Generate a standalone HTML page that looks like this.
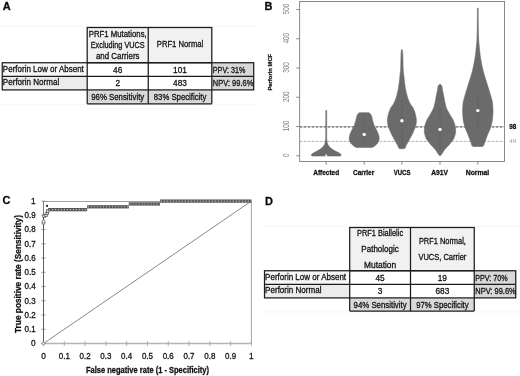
<!DOCTYPE html>
<html><head><meta charset="utf-8"><title>Figure</title>
<style>html,body{margin:0;padding:0;background:#fff}svg{display:block}</style></head>
<body>
<svg width="520" height="376" viewBox="0 0 520 376" font-family="Liberation Sans, sans-serif">
<rect x="0" y="0" width="520" height="376" fill="#ffffff" stroke="none" stroke-width="1"/>
<text x="2.8" y="10.1" font-size="11" text-anchor="start" font-weight="bold" fill="#0a0a0a" stroke="#0a0a0a" stroke-width="0.28" >A</text>
<text x="264.4" y="10.0" font-size="11" text-anchor="start" font-weight="bold" fill="#0a0a0a" stroke="#0a0a0a" stroke-width="0.28" >B</text>
<text x="2.6" y="204.4" font-size="11" text-anchor="start" font-weight="bold" fill="#0a0a0a" stroke="#0a0a0a" stroke-width="0.28" >C</text>
<text x="264.9" y="204.5" font-size="11" text-anchor="start" font-weight="bold" fill="#0a0a0a" stroke="#0a0a0a" stroke-width="0.28" >D</text>
<line x1="0.25" y1="26.3" x2="257.7" y2="26.3" stroke="#f1f1f1" stroke-width="0.8" />
<line x1="0.25" y1="104.6" x2="257.7" y2="104.6" stroke="#f4f4f4" stroke-width="0.8" />
<rect x="87.2" y="27.5" width="124.60000000000001" height="35.25" fill="#f1f1f1" stroke="none" stroke-width="1"/>
<rect x="2.25" y="62.75" width="84.95" height="13.650000000000006" fill="#f7f7f7" stroke="none" stroke-width="1"/>
<rect x="2.25" y="76.4" width="84.95" height="13.5" fill="#ececec" stroke="none" stroke-width="1"/>
<rect x="211.8" y="62.75" width="41.89999999999998" height="27.150000000000006" fill="#d8d8d8" stroke="none" stroke-width="1"/>
<rect x="87.2" y="89.9" width="124.60000000000001" height="13.899999999999991" fill="#dadada" stroke="none" stroke-width="1"/>
<rect x="87.2" y="27.5" width="124.60000000000001" height="35.25" fill="none" stroke="#1c1c1c" stroke-width="1.25"/>
<line x1="148.25" y1="27.5" x2="148.25" y2="103.8" stroke="#1c1c1c" stroke-width="1.25" />
<rect x="2.25" y="62.75" width="251.45" height="27.150000000000006" fill="none" stroke="#1c1c1c" stroke-width="1.25"/>
<line x1="2.25" y1="76.4" x2="253.7" y2="76.4" stroke="#1c1c1c" stroke-width="1.25" />
<line x1="87.2" y1="62.75" x2="87.2" y2="103.8" stroke="#1c1c1c" stroke-width="1.25" />
<line x1="211.8" y1="62.75" x2="211.8" y2="103.8" stroke="#1c1c1c" stroke-width="1.25" />
<line x1="87.2" y1="103.8" x2="211.8" y2="103.8" stroke="#1c1c1c" stroke-width="1.25" />
<text x="117.725" y="36.6" font-size="8.3" text-anchor="middle" font-weight="normal" fill="#111111" stroke="#111111" stroke-width="0.28" textLength="58" lengthAdjust="spacingAndGlyphs" >PRF1 Mutations,</text>
<text x="117.725" y="47.5" font-size="8.3" text-anchor="middle" font-weight="normal" fill="#111111" stroke="#111111" stroke-width="0.28" textLength="54" lengthAdjust="spacingAndGlyphs" >Excluding VUCS</text>
<text x="117.725" y="58.5" font-size="8.3" text-anchor="middle" font-weight="normal" fill="#111111" stroke="#111111" stroke-width="0.28" textLength="43.5" lengthAdjust="spacingAndGlyphs" >and Carriers</text>
<text x="180.025" y="47.4" font-size="8.3" text-anchor="middle" font-weight="normal" fill="#111111" stroke="#111111" stroke-width="0.28" textLength="46.5" lengthAdjust="spacingAndGlyphs" >PRF1 Normal</text>
<text x="2.85" y="71.575" font-size="8.2" text-anchor="start" font-weight="normal" fill="#111111" stroke="#111111" stroke-width="0.28" textLength="81" lengthAdjust="spacingAndGlyphs" >Perforin Low or Absent</text>
<text x="2.85" y="85.15" font-size="8.2" text-anchor="start" font-weight="normal" fill="#111111" stroke="#111111" stroke-width="0.28" textLength="56.4" lengthAdjust="spacingAndGlyphs" >Perforin Normal</text>
<text x="117.725" y="72.775" font-size="8.3" text-anchor="middle" font-weight="normal" fill="#111111" stroke="#111111" stroke-width="0.28" >46</text>
<text x="180.025" y="72.775" font-size="8.3" text-anchor="middle" font-weight="normal" fill="#111111" stroke="#111111" stroke-width="0.28" >101</text>
<text x="117.725" y="86.35000000000001" font-size="8.3" text-anchor="middle" font-weight="normal" fill="#111111" stroke="#111111" stroke-width="0.28" >2</text>
<text x="180.025" y="86.35000000000001" font-size="8.3" text-anchor="middle" font-weight="normal" fill="#111111" stroke="#111111" stroke-width="0.28" >483</text>
<text x="117.725" y="99.94999999999999" font-size="8.3" text-anchor="middle" font-weight="normal" fill="#111111" stroke="#111111" stroke-width="0.28" textLength="53" lengthAdjust="spacingAndGlyphs" >96% Sensitivity</text>
<text x="180.025" y="99.94999999999999" font-size="8.3" text-anchor="middle" font-weight="normal" fill="#111111" stroke="#111111" stroke-width="0.28" textLength="52.5" lengthAdjust="spacingAndGlyphs" >83% Specificity</text>
<text x="212.8" y="72.775" font-size="8.3" text-anchor="start" font-weight="normal" fill="#111111" stroke="#111111" stroke-width="0.28" textLength="32.5" lengthAdjust="spacingAndGlyphs" >PPV: 31%</text>
<text x="212.8" y="86.35000000000001" font-size="8.3" text-anchor="start" font-weight="normal" fill="#111111" stroke="#111111" stroke-width="0.28" textLength="40.5" lengthAdjust="spacingAndGlyphs" >NPV: 99.6%</text>
<line x1="262.5" y1="226.3" x2="519.75" y2="226.3" stroke="#f1f1f1" stroke-width="0.8" />
<line x1="262.5" y1="311.90000000000003" x2="519.75" y2="311.90000000000003" stroke="#f4f4f4" stroke-width="0.8" />
<rect x="349.7" y="227.5" width="124.55000000000001" height="43.25" fill="#f1f1f1" stroke="none" stroke-width="1"/>
<rect x="264.5" y="270.75" width="85.19999999999999" height="13.649999999999977" fill="#f7f7f7" stroke="none" stroke-width="1"/>
<rect x="264.5" y="284.4" width="85.19999999999999" height="13.5" fill="#ececec" stroke="none" stroke-width="1"/>
<rect x="474.25" y="270.75" width="41.5" height="27.149999999999977" fill="#d8d8d8" stroke="none" stroke-width="1"/>
<rect x="349.7" y="297.9" width="124.55000000000001" height="13.200000000000045" fill="#dadada" stroke="none" stroke-width="1"/>
<rect x="349.7" y="227.5" width="124.55000000000001" height="43.25" fill="none" stroke="#1c1c1c" stroke-width="1.25"/>
<line x1="410.5" y1="227.5" x2="410.5" y2="311.1" stroke="#1c1c1c" stroke-width="1.25" />
<rect x="264.5" y="270.75" width="251.25" height="27.149999999999977" fill="none" stroke="#1c1c1c" stroke-width="1.25"/>
<line x1="264.5" y1="284.4" x2="515.75" y2="284.4" stroke="#1c1c1c" stroke-width="1.25" />
<line x1="349.7" y1="270.75" x2="349.7" y2="311.1" stroke="#1c1c1c" stroke-width="1.25" />
<line x1="474.25" y1="270.75" x2="474.25" y2="311.1" stroke="#1c1c1c" stroke-width="1.25" />
<line x1="349.7" y1="311.1" x2="474.25" y2="311.1" stroke="#1c1c1c" stroke-width="1.25" />
<text x="380.1" y="235.5" font-size="8.3" text-anchor="middle" font-weight="normal" fill="#111111" stroke="#111111" stroke-width="0.28" textLength="46" lengthAdjust="spacingAndGlyphs" >PRF1 Biallelic</text>
<text x="380.1" y="251.6" font-size="8.3" text-anchor="middle" font-weight="normal" fill="#111111" stroke="#111111" stroke-width="0.28" textLength="37.5" lengthAdjust="spacingAndGlyphs" >Pathologic</text>
<text x="380.1" y="267.5" font-size="8.3" text-anchor="middle" font-weight="normal" fill="#111111" stroke="#111111" stroke-width="0.28" textLength="32.3" lengthAdjust="spacingAndGlyphs" >Mutation</text>
<text x="442.375" y="243.5" font-size="8.3" text-anchor="middle" font-weight="normal" fill="#111111" stroke="#111111" stroke-width="0.28" textLength="47" lengthAdjust="spacingAndGlyphs" >PRF1 Normal,</text>
<text x="442.375" y="259.8" font-size="8.3" text-anchor="middle" font-weight="normal" fill="#111111" stroke="#111111" stroke-width="0.28" textLength="48" lengthAdjust="spacingAndGlyphs" >VUCS, Carrier</text>
<text x="265.1" y="279.575" font-size="8.2" text-anchor="start" font-weight="normal" fill="#111111" stroke="#111111" stroke-width="0.28" textLength="81" lengthAdjust="spacingAndGlyphs" >Perforin Low or Absent</text>
<text x="265.1" y="293.15" font-size="8.2" text-anchor="start" font-weight="normal" fill="#111111" stroke="#111111" stroke-width="0.28" textLength="56.4" lengthAdjust="spacingAndGlyphs" >Perforin Normal</text>
<text x="380.1" y="280.775" font-size="8.3" text-anchor="middle" font-weight="normal" fill="#111111" stroke="#111111" stroke-width="0.28" >45</text>
<text x="442.375" y="280.775" font-size="8.3" text-anchor="middle" font-weight="normal" fill="#111111" stroke="#111111" stroke-width="0.28" >19</text>
<text x="380.1" y="294.34999999999997" font-size="8.3" text-anchor="middle" font-weight="normal" fill="#111111" stroke="#111111" stroke-width="0.28" >3</text>
<text x="442.375" y="294.34999999999997" font-size="8.3" text-anchor="middle" font-weight="normal" fill="#111111" stroke="#111111" stroke-width="0.28" >683</text>
<text x="380.1" y="307.6" font-size="8.3" text-anchor="middle" font-weight="normal" fill="#111111" stroke="#111111" stroke-width="0.28" textLength="53" lengthAdjust="spacingAndGlyphs" >94% Sensitivity</text>
<text x="442.375" y="307.6" font-size="8.3" text-anchor="middle" font-weight="normal" fill="#111111" stroke="#111111" stroke-width="0.28" textLength="52.5" lengthAdjust="spacingAndGlyphs" >97% Specificity</text>
<text x="475.25" y="280.775" font-size="8.3" text-anchor="start" font-weight="normal" fill="#111111" stroke="#111111" stroke-width="0.28" textLength="32.5" lengthAdjust="spacingAndGlyphs" >PPV: 70%</text>
<text x="475.25" y="294.34999999999997" font-size="8.3" text-anchor="start" font-weight="normal" fill="#111111" stroke="#111111" stroke-width="0.28" textLength="40.5" lengthAdjust="spacingAndGlyphs" >NPV: 99.6%</text>
<line x1="299.6" y1="126.9" x2="504.5" y2="126.9" stroke="#5e5e5e" stroke-width="1.1" stroke-dasharray="2.8 1.2"/>
<line x1="299.6" y1="141.4" x2="504.5" y2="141.4" stroke="#a8a8a8" stroke-width="0.9" stroke-dasharray="2.8 1.2"/>
<polygon points="326.65,110.50 326.65,111.00 326.65,111.50 326.65,112.00 326.65,112.50 326.65,113.00 326.65,113.50 326.65,114.00 326.65,114.50 326.65,115.00 326.65,115.50 326.65,116.00 326.65,116.50 326.65,117.00 326.65,117.50 326.65,118.00 326.65,118.50 326.65,119.00 326.65,119.50 326.65,120.00 326.65,120.50 326.66,121.00 326.66,121.50 326.66,122.00 326.66,122.50 326.66,123.00 326.66,123.50 326.66,124.00 326.66,124.50 326.66,125.00 326.66,125.50 326.66,126.00 326.66,126.50 326.67,127.00 326.67,127.50 326.67,128.00 326.67,128.50 326.67,129.00 326.67,129.50 326.67,130.00 326.67,130.50 326.68,131.00 326.68,131.50 326.68,132.00 326.68,132.50 326.68,133.00 326.69,133.50 326.69,134.00 326.69,134.50 326.69,135.00 326.69,135.50 326.70,136.00 326.70,136.50 326.70,137.00 326.71,137.50 326.73,138.00 326.75,138.50 326.79,139.00 326.84,139.50 326.89,140.00 326.94,140.50 327.01,141.00 327.07,141.50 327.15,142.00 327.25,142.50 327.38,143.00 327.54,143.50 327.72,144.00 327.92,144.50 328.15,145.00 328.43,145.50 328.79,146.00 329.20,146.50 329.67,147.00 330.17,147.50 330.70,148.00 331.30,148.50 331.99,149.00 332.76,149.50 333.57,150.00 334.40,150.50 335.29,151.00 336.27,151.50 337.27,152.00 338.20,152.50 339.03,153.00 339.89,153.50 340.60,154.00 340.93,154.50 341.06,155.00 341.05,155.50 340.00,156.00 312.40,156.00 311.35,155.50 311.34,155.00 311.47,154.50 311.80,154.00 312.51,153.50 313.37,153.00 314.20,152.50 315.13,152.00 316.13,151.50 317.11,151.00 318.00,150.50 318.83,150.00 319.64,149.50 320.41,149.00 321.10,148.50 321.70,148.00 322.23,147.50 322.73,147.00 323.20,146.50 323.61,146.00 323.97,145.50 324.25,145.00 324.48,144.50 324.68,144.00 324.86,143.50 325.02,143.00 325.15,142.50 325.25,142.00 325.33,141.50 325.39,141.00 325.46,140.50 325.51,140.00 325.56,139.50 325.61,139.00 325.65,138.50 325.67,138.00 325.69,137.50 325.70,137.00 325.70,136.50 325.70,136.00 325.71,135.50 325.71,135.00 325.71,134.50 325.71,134.00 325.71,133.50 325.72,133.00 325.72,132.50 325.72,132.00 325.72,131.50 325.72,131.00 325.73,130.50 325.73,130.00 325.73,129.50 325.73,129.00 325.73,128.50 325.73,128.00 325.73,127.50 325.73,127.00 325.74,126.50 325.74,126.00 325.74,125.50 325.74,125.00 325.74,124.50 325.74,124.00 325.74,123.50 325.74,123.00 325.74,122.50 325.74,122.00 325.74,121.50 325.74,121.00 325.75,120.50 325.75,120.00 325.75,119.50 325.75,119.00 325.75,118.50 325.75,118.00 325.75,117.50 325.75,117.00 325.75,116.50 325.75,116.00 325.75,115.50 325.75,115.00 325.75,114.50 325.75,114.00 325.75,113.50 325.75,113.00 325.75,112.50 325.75,112.00 325.75,111.50 325.75,111.00 325.75,110.50" fill="#6b6b6b" stroke="#6b6b6b" stroke-width="0.6" stroke-linejoin="round"/>
<polygon points="368.80,112.70 369.69,113.20 370.29,113.70 370.66,114.20 370.96,114.70 371.21,115.20 371.42,115.70 371.60,116.20 371.77,116.70 371.91,117.20 372.04,117.70 372.16,118.20 372.27,118.70 372.37,119.20 372.48,119.70 372.59,120.20 372.72,120.70 372.86,121.20 373.00,121.70 373.14,122.20 373.29,122.70 373.44,123.20 373.59,123.70 373.76,124.20 373.93,124.70 374.11,125.20 374.30,125.70 374.51,126.20 374.75,126.70 375.02,127.20 375.29,127.70 375.57,128.20 375.86,128.70 376.14,129.20 376.41,129.70 376.66,130.20 376.89,130.70 377.12,131.20 377.35,131.70 377.58,132.20 377.80,132.70 378.01,133.20 378.21,133.70 378.39,134.20 378.55,134.70 378.68,135.20 378.79,135.70 378.90,136.20 379.00,136.70 379.09,137.20 379.15,137.70 379.19,138.20 379.20,138.70 379.15,139.20 379.06,139.70 378.93,140.20 378.76,140.70 378.57,141.20 378.36,141.70 378.14,142.20 377.90,142.70 377.57,143.20 377.16,143.70 376.67,144.20 376.14,144.70 375.57,145.20 375.00,145.70 374.41,146.20 373.68,146.70 372.57,147.20 372.00,147.40 356.40,147.40 355.83,147.20 354.72,146.70 353.99,146.20 353.40,145.70 352.83,145.20 352.26,144.70 351.73,144.20 351.24,143.70 350.83,143.20 350.50,142.70 350.26,142.20 350.04,141.70 349.83,141.20 349.64,140.70 349.47,140.20 349.34,139.70 349.25,139.20 349.20,138.70 349.21,138.20 349.25,137.70 349.31,137.20 349.40,136.70 349.50,136.20 349.61,135.70 349.72,135.20 349.85,134.70 350.01,134.20 350.19,133.70 350.39,133.20 350.60,132.70 350.82,132.20 351.05,131.70 351.28,131.20 351.51,130.70 351.74,130.20 351.99,129.70 352.26,129.20 352.54,128.70 352.83,128.20 353.11,127.70 353.38,127.20 353.65,126.70 353.89,126.20 354.10,125.70 354.29,125.20 354.47,124.70 354.64,124.20 354.81,123.70 354.96,123.20 355.11,122.70 355.26,122.20 355.40,121.70 355.54,121.20 355.68,120.70 355.81,120.20 355.92,119.70 356.03,119.20 356.13,118.70 356.24,118.20 356.36,117.70 356.49,117.20 356.63,116.70 356.80,116.20 356.98,115.70 357.19,115.20 357.44,114.70 357.74,114.20 358.11,113.70 358.71,113.20 359.60,112.70" fill="#6b6b6b" stroke="#6b6b6b" stroke-width="0.6" stroke-linejoin="round"/>
<polygon points="402.40,49.80 402.45,50.30 402.51,50.80 402.56,51.30 402.61,51.80 402.65,52.30 402.69,52.80 402.72,53.30 402.74,53.80 402.76,54.30 402.78,54.80 402.80,55.30 402.82,55.80 402.84,56.30 402.85,56.80 402.87,57.30 402.88,57.80 402.89,58.30 402.91,58.80 402.92,59.30 402.93,59.80 402.94,60.30 402.95,60.80 402.96,61.30 402.97,61.80 402.98,62.30 402.99,62.80 403.00,63.30 403.02,63.80 403.03,64.30 403.04,64.80 403.06,65.30 403.07,65.80 403.09,66.30 403.11,66.80 403.12,67.30 403.14,67.80 403.17,68.30 403.19,68.80 403.22,69.30 403.25,69.80 403.28,70.30 403.32,70.80 403.37,71.30 403.42,71.80 403.47,72.30 403.52,72.80 403.58,73.30 403.64,73.80 403.69,74.30 403.75,74.80 403.81,75.30 403.87,75.80 403.92,76.30 403.98,76.80 404.03,77.30 404.08,77.80 404.14,78.30 404.19,78.80 404.24,79.30 404.29,79.80 404.34,80.30 404.39,80.80 404.45,81.30 404.50,81.80 404.56,82.30 404.62,82.80 404.68,83.30 404.74,83.80 404.80,84.30 404.87,84.80 404.94,85.30 405.02,85.80 405.09,86.30 405.17,86.80 405.25,87.30 405.34,87.80 405.43,88.30 405.52,88.80 405.61,89.30 405.71,89.80 405.81,90.30 405.91,90.80 406.02,91.30 406.13,91.80 406.24,92.30 406.35,92.80 406.47,93.30 406.59,93.80 406.72,94.30 406.85,94.80 406.98,95.30 407.12,95.80 407.27,96.30 407.42,96.80 407.57,97.30 407.74,97.80 407.90,98.30 408.07,98.80 408.25,99.30 408.43,99.80 408.62,100.30 408.82,100.80 409.02,101.30 409.25,101.80 409.49,102.30 409.74,102.80 410.01,103.30 410.29,103.80 410.58,104.30 410.88,104.80 411.19,105.30 411.55,105.80 411.94,106.30 412.33,106.80 412.69,107.30 413.00,107.80 413.24,108.30 413.47,108.80 413.70,109.30 413.91,109.80 414.12,110.30 414.32,110.80 414.50,111.30 414.68,111.80 414.85,112.30 415.01,112.80 415.16,113.30 415.30,113.80 415.43,114.30 415.55,114.80 415.66,115.30 415.76,115.80 415.85,116.30 415.94,116.80 416.03,117.30 416.12,117.80 416.20,118.30 416.27,118.80 416.32,119.30 416.37,119.80 416.39,120.30 416.40,120.80 416.39,121.30 416.35,121.80 416.31,122.30 416.26,122.80 416.19,123.30 416.13,123.80 416.06,124.30 415.97,124.80 415.85,125.30 415.72,125.80 415.58,126.30 415.42,126.80 415.24,127.30 415.06,127.80 414.86,128.30 414.66,128.80 414.45,129.30 414.24,129.80 414.03,130.30 413.81,130.80 413.60,131.30 413.38,131.80 413.17,132.30 412.95,132.80 412.72,133.30 412.49,133.80 412.24,134.30 411.99,134.80 411.73,135.30 411.47,135.80 411.20,136.30 410.93,136.80 410.66,137.30 410.39,137.80 410.11,138.30 409.84,138.80 409.57,139.30 409.31,139.80 409.04,140.30 408.77,140.80 408.49,141.30 408.21,141.80 407.93,142.30 407.64,142.80 407.36,143.30 407.08,143.80 406.81,144.30 406.54,144.80 406.28,145.30 406.03,145.80 405.80,146.30 405.61,146.80 405.45,147.30 405.23,147.80 404.77,148.30 404.10,148.70 399.70,148.70 399.03,148.30 398.57,147.80 398.35,147.30 398.19,146.80 398.00,146.30 397.77,145.80 397.52,145.30 397.26,144.80 396.99,144.30 396.72,143.80 396.44,143.30 396.16,142.80 395.87,142.30 395.59,141.80 395.31,141.30 395.03,140.80 394.76,140.30 394.49,139.80 394.23,139.30 393.96,138.80 393.69,138.30 393.41,137.80 393.14,137.30 392.87,136.80 392.60,136.30 392.33,135.80 392.07,135.30 391.81,134.80 391.56,134.30 391.31,133.80 391.08,133.30 390.85,132.80 390.63,132.30 390.42,131.80 390.20,131.30 389.99,130.80 389.77,130.30 389.56,129.80 389.35,129.30 389.14,128.80 388.94,128.30 388.74,127.80 388.56,127.30 388.38,126.80 388.22,126.30 388.08,125.80 387.95,125.30 387.83,124.80 387.74,124.30 387.67,123.80 387.61,123.30 387.54,122.80 387.49,122.30 387.45,121.80 387.41,121.30 387.40,120.80 387.41,120.30 387.43,119.80 387.48,119.30 387.53,118.80 387.60,118.30 387.68,117.80 387.77,117.30 387.86,116.80 387.95,116.30 388.04,115.80 388.14,115.30 388.25,114.80 388.37,114.30 388.50,113.80 388.64,113.30 388.79,112.80 388.95,112.30 389.12,111.80 389.30,111.30 389.48,110.80 389.68,110.30 389.89,109.80 390.10,109.30 390.33,108.80 390.56,108.30 390.80,107.80 391.11,107.30 391.47,106.80 391.86,106.30 392.25,105.80 392.61,105.30 392.92,104.80 393.22,104.30 393.51,103.80 393.79,103.30 394.06,102.80 394.31,102.30 394.55,101.80 394.78,101.30 394.98,100.80 395.18,100.30 395.37,99.80 395.55,99.30 395.73,98.80 395.90,98.30 396.06,97.80 396.23,97.30 396.38,96.80 396.53,96.30 396.68,95.80 396.82,95.30 396.95,94.80 397.08,94.30 397.21,93.80 397.33,93.30 397.45,92.80 397.56,92.30 397.67,91.80 397.78,91.30 397.89,90.80 397.99,90.30 398.09,89.80 398.19,89.30 398.28,88.80 398.37,88.30 398.46,87.80 398.55,87.30 398.63,86.80 398.71,86.30 398.78,85.80 398.86,85.30 398.93,84.80 399.00,84.30 399.06,83.80 399.12,83.30 399.18,82.80 399.24,82.30 399.30,81.80 399.35,81.30 399.41,80.80 399.46,80.30 399.51,79.80 399.56,79.30 399.61,78.80 399.66,78.30 399.72,77.80 399.77,77.30 399.82,76.80 399.88,76.30 399.93,75.80 399.99,75.30 400.05,74.80 400.11,74.30 400.16,73.80 400.22,73.30 400.28,72.80 400.33,72.30 400.38,71.80 400.43,71.30 400.48,70.80 400.52,70.30 400.55,69.80 400.58,69.30 400.61,68.80 400.63,68.30 400.66,67.80 400.68,67.30 400.69,66.80 400.71,66.30 400.73,65.80 400.74,65.30 400.76,64.80 400.77,64.30 400.78,63.80 400.80,63.30 400.81,62.80 400.82,62.30 400.83,61.80 400.84,61.30 400.85,60.80 400.86,60.30 400.87,59.80 400.88,59.30 400.89,58.80 400.91,58.30 400.92,57.80 400.93,57.30 400.95,56.80 400.96,56.30 400.98,55.80 401.00,55.30 401.02,54.80 401.04,54.30 401.06,53.80 401.08,53.30 401.11,52.80 401.15,52.30 401.19,51.80 401.24,51.30 401.29,50.80 401.35,50.30 401.40,49.80" fill="#6b6b6b" stroke="#6b6b6b" stroke-width="0.6" stroke-linejoin="round"/>
<polygon points="440.70,84.60 441.29,85.10 441.64,85.60 441.81,86.10 441.94,86.60 442.06,87.10 442.15,87.60 442.23,88.10 442.29,88.60 442.36,89.10 442.43,89.60 442.51,90.10 442.60,90.60 442.70,91.10 442.81,91.60 442.92,92.10 443.02,92.60 443.13,93.10 443.24,93.60 443.35,94.10 443.46,94.60 443.57,95.10 443.67,95.60 443.77,96.10 443.87,96.60 443.97,97.10 444.06,97.60 444.15,98.10 444.23,98.60 444.31,99.10 444.39,99.60 444.48,100.10 444.57,100.60 444.66,101.10 444.76,101.60 444.86,102.10 444.97,102.60 445.08,103.10 445.19,103.60 445.30,104.10 445.42,104.60 445.54,105.10 445.67,105.60 445.81,106.10 445.95,106.60 446.11,107.10 446.27,107.60 446.44,108.10 446.64,108.60 446.86,109.10 447.09,109.60 447.34,110.10 447.60,110.60 447.88,111.10 448.15,111.60 448.44,112.10 448.72,112.60 449.00,113.10 449.28,113.60 449.55,114.10 449.84,114.60 450.13,115.10 450.44,115.60 450.75,116.10 451.07,116.60 451.38,117.10 451.70,117.60 452.00,118.10 452.29,118.60 452.57,119.10 452.83,119.60 453.07,120.10 453.28,120.60 453.49,121.10 453.70,121.60 453.90,122.10 454.10,122.60 454.29,123.10 454.47,123.60 454.64,124.10 454.80,124.60 454.94,125.10 455.07,125.60 455.18,126.10 455.27,126.60 455.34,127.10 455.41,127.60 455.48,128.10 455.54,128.60 455.60,129.10 455.64,129.60 455.67,130.10 455.69,130.60 455.70,131.10 455.68,131.60 455.64,132.10 455.58,132.60 455.50,133.10 455.40,133.60 455.29,134.10 455.16,134.60 455.02,135.10 454.88,135.60 454.72,136.10 454.56,136.60 454.40,137.10 454.23,137.60 454.03,138.10 453.78,138.60 453.50,139.10 453.19,139.60 452.86,140.10 452.50,140.60 452.12,141.10 451.74,141.60 451.34,142.10 450.94,142.60 450.55,143.10 450.15,143.60 449.76,144.10 449.35,144.60 448.91,145.10 448.46,145.60 447.99,146.10 447.52,146.60 447.04,147.10 446.56,147.60 446.09,148.10 445.63,148.60 445.19,149.10 444.77,149.60 444.38,150.10 444.01,150.60 443.67,151.10 443.35,151.60 443.03,152.10 442.72,152.60 442.40,153.10 442.08,153.60 441.73,154.10 441.36,154.60 440.99,155.10 440.60,155.60 439.40,155.60 439.01,155.10 438.64,154.60 438.27,154.10 437.92,153.60 437.60,153.10 437.28,152.60 436.97,152.10 436.65,151.60 436.33,151.10 435.99,150.60 435.62,150.10 435.23,149.60 434.81,149.10 434.37,148.60 433.91,148.10 433.44,147.60 432.96,147.10 432.48,146.60 432.01,146.10 431.54,145.60 431.09,145.10 430.65,144.60 430.24,144.10 429.85,143.60 429.45,143.10 429.06,142.60 428.66,142.10 428.26,141.60 427.88,141.10 427.50,140.60 427.14,140.10 426.81,139.60 426.50,139.10 426.22,138.60 425.97,138.10 425.77,137.60 425.60,137.10 425.44,136.60 425.28,136.10 425.12,135.60 424.98,135.10 424.84,134.60 424.71,134.10 424.60,133.60 424.50,133.10 424.42,132.60 424.36,132.10 424.32,131.60 424.30,131.10 424.31,130.60 424.33,130.10 424.36,129.60 424.40,129.10 424.46,128.60 424.52,128.10 424.59,127.60 424.66,127.10 424.73,126.60 424.82,126.10 424.93,125.60 425.06,125.10 425.20,124.60 425.36,124.10 425.53,123.60 425.71,123.10 425.90,122.60 426.10,122.10 426.30,121.60 426.51,121.10 426.72,120.60 426.93,120.10 427.17,119.60 427.43,119.10 427.71,118.60 428.00,118.10 428.30,117.60 428.62,117.10 428.93,116.60 429.25,116.10 429.56,115.60 429.87,115.10 430.16,114.60 430.45,114.10 430.72,113.60 431.00,113.10 431.28,112.60 431.56,112.10 431.85,111.60 432.12,111.10 432.40,110.60 432.66,110.10 432.91,109.60 433.14,109.10 433.36,108.60 433.56,108.10 433.73,107.60 433.89,107.10 434.05,106.60 434.19,106.10 434.33,105.60 434.46,105.10 434.58,104.60 434.70,104.10 434.81,103.60 434.92,103.10 435.03,102.60 435.14,102.10 435.24,101.60 435.34,101.10 435.43,100.60 435.52,100.10 435.61,99.60 435.69,99.10 435.77,98.60 435.85,98.10 435.94,97.60 436.03,97.10 436.13,96.60 436.23,96.10 436.33,95.60 436.43,95.10 436.54,94.60 436.65,94.10 436.76,93.60 436.87,93.10 436.98,92.60 437.08,92.10 437.19,91.60 437.30,91.10 437.40,90.60 437.49,90.10 437.57,89.60 437.64,89.10 437.71,88.60 437.77,88.10 437.85,87.60 437.94,87.10 438.06,86.60 438.19,86.10 438.36,85.60 438.71,85.10 439.30,84.60" fill="#6b6b6b" stroke="#6b6b6b" stroke-width="0.6" stroke-linejoin="round"/>
<polygon points="478.20,8.00 478.20,8.50 478.20,9.00 478.20,9.50 478.20,10.00 478.20,10.50 478.20,11.00 478.21,11.50 478.21,12.00 478.21,12.50 478.21,13.00 478.22,13.50 478.22,14.00 478.22,14.50 478.23,15.00 478.23,15.50 478.23,16.00 478.24,16.50 478.24,17.00 478.24,17.50 478.25,18.00 478.25,18.50 478.26,19.00 478.26,19.50 478.27,20.00 478.27,20.50 478.28,21.00 478.29,21.50 478.29,22.00 478.30,22.50 478.30,23.00 478.31,23.50 478.32,24.00 478.32,24.50 478.33,25.00 478.34,25.50 478.34,26.00 478.35,26.50 478.36,27.00 478.36,27.50 478.37,28.00 478.38,28.50 478.39,29.00 478.39,29.50 478.40,30.00 478.41,30.50 478.42,31.00 478.43,31.50 478.44,32.00 478.45,32.50 478.46,33.00 478.47,33.50 478.48,34.00 478.50,34.50 478.51,35.00 478.53,35.50 478.54,36.00 478.56,36.50 478.58,37.00 478.60,37.50 478.62,38.00 478.64,38.50 478.66,39.00 478.68,39.50 478.70,40.00 478.72,40.50 478.75,41.00 478.79,41.50 478.82,42.00 478.86,42.50 478.91,43.00 478.95,43.50 479.00,44.00 479.05,44.50 479.10,45.00 479.15,45.50 479.20,46.00 479.25,46.50 479.30,47.00 479.35,47.50 479.40,48.00 479.45,48.50 479.50,49.00 479.55,49.50 479.60,50.00 479.65,50.50 479.70,51.00 479.76,51.50 479.81,52.00 479.87,52.50 479.92,53.00 479.98,53.50 480.04,54.00 480.10,54.50 480.17,55.00 480.23,55.50 480.30,56.00 480.37,56.50 480.44,57.00 480.52,57.50 480.60,58.00 480.68,58.50 480.77,59.00 480.85,59.50 480.94,60.00 481.03,60.50 481.12,61.00 481.22,61.50 481.31,62.00 481.41,62.50 481.50,63.00 481.60,63.50 481.70,64.00 481.80,64.50 481.90,65.00 482.00,65.50 482.11,66.00 482.21,66.50 482.32,67.00 482.43,67.50 482.54,68.00 482.65,68.50 482.77,69.00 482.88,69.50 483.00,70.00 483.12,70.50 483.25,71.00 483.37,71.50 483.50,72.00 483.63,72.50 483.77,73.00 483.91,73.50 484.05,74.00 484.20,74.50 484.35,75.00 484.50,75.50 484.65,76.00 484.81,76.50 484.96,77.00 485.12,77.50 485.28,78.00 485.43,78.50 485.59,79.00 485.75,79.50 485.90,80.00 486.05,80.50 486.21,81.00 486.36,81.50 486.52,82.00 486.68,82.50 486.83,83.00 486.99,83.50 487.15,84.00 487.31,84.50 487.47,85.00 487.62,85.50 487.78,86.00 487.94,86.50 488.09,87.00 488.25,87.50 488.40,88.00 488.55,88.50 488.71,89.00 488.86,89.50 489.02,90.00 489.17,90.50 489.33,91.00 489.48,91.50 489.64,92.00 489.79,92.50 489.94,93.00 490.09,93.50 490.24,94.00 490.38,94.50 490.53,95.00 490.66,95.50 490.80,96.00 490.94,96.50 491.08,97.00 491.22,97.50 491.37,98.00 491.51,98.50 491.66,99.00 491.80,99.50 491.93,100.00 492.05,100.50 492.17,101.00 492.27,101.50 492.36,102.00 492.44,102.50 492.50,103.00 492.55,103.50 492.60,104.00 492.65,104.50 492.69,105.00 492.74,105.50 492.78,106.00 492.81,106.50 492.85,107.00 492.88,107.50 492.91,108.00 492.94,108.50 492.96,109.00 492.98,109.50 492.99,110.00 493.00,110.50 493.00,111.00 493.00,111.50 492.99,112.00 492.98,112.50 492.96,113.00 492.94,113.50 492.91,114.00 492.88,114.50 492.85,115.00 492.81,115.50 492.77,116.00 492.73,116.50 492.69,117.00 492.64,117.50 492.60,118.00 492.55,118.50 492.50,119.00 492.45,119.50 492.38,120.00 492.30,120.50 492.22,121.00 492.12,121.50 492.02,122.00 491.91,122.50 491.79,123.00 491.67,123.50 491.54,124.00 491.41,124.50 491.27,125.00 491.13,125.50 490.99,126.00 490.84,126.50 490.70,127.00 490.55,127.50 490.38,128.00 490.21,128.50 490.02,129.00 489.83,129.50 489.62,130.00 489.41,130.50 489.20,131.00 488.98,131.50 488.76,132.00 488.54,132.50 488.33,133.00 488.11,133.50 487.90,134.00 487.70,134.50 487.50,135.00 487.31,135.50 487.11,136.00 486.92,136.50 486.73,137.00 486.54,137.50 486.35,138.00 486.16,138.50 485.97,139.00 485.78,139.50 485.60,140.00 485.41,140.50 485.23,141.00 485.04,141.50 484.86,142.00 484.68,142.50 484.50,143.00 484.34,143.50 484.20,144.00 484.06,144.50 483.89,145.00 483.66,145.50 483.24,146.00 482.60,146.50 473.00,146.50 472.36,146.00 471.94,145.50 471.71,145.00 471.54,144.50 471.40,144.00 471.26,143.50 471.10,143.00 470.92,142.50 470.74,142.00 470.56,141.50 470.37,141.00 470.19,140.50 470.00,140.00 469.82,139.50 469.63,139.00 469.44,138.50 469.25,138.00 469.06,137.50 468.87,137.00 468.68,136.50 468.49,136.00 468.29,135.50 468.10,135.00 467.90,134.50 467.70,134.00 467.49,133.50 467.27,133.00 467.06,132.50 466.84,132.00 466.62,131.50 466.40,131.00 466.19,130.50 465.98,130.00 465.77,129.50 465.58,129.00 465.39,128.50 465.22,128.00 465.05,127.50 464.90,127.00 464.76,126.50 464.61,126.00 464.47,125.50 464.33,125.00 464.19,124.50 464.06,124.00 463.93,123.50 463.81,123.00 463.69,122.50 463.58,122.00 463.48,121.50 463.38,121.00 463.30,120.50 463.22,120.00 463.15,119.50 463.10,119.00 463.05,118.50 463.00,118.00 462.96,117.50 462.91,117.00 462.87,116.50 462.83,116.00 462.79,115.50 462.75,115.00 462.72,114.50 462.69,114.00 462.66,113.50 462.64,113.00 462.62,112.50 462.61,112.00 462.60,111.50 462.60,111.00 462.60,110.50 462.61,110.00 462.62,109.50 462.64,109.00 462.66,108.50 462.69,108.00 462.72,107.50 462.75,107.00 462.79,106.50 462.82,106.00 462.86,105.50 462.91,105.00 462.95,104.50 463.00,104.00 463.05,103.50 463.10,103.00 463.16,102.50 463.24,102.00 463.33,101.50 463.43,101.00 463.55,100.50 463.67,100.00 463.80,99.50 463.94,99.00 464.09,98.50 464.23,98.00 464.38,97.50 464.52,97.00 464.66,96.50 464.80,96.00 464.94,95.50 465.07,95.00 465.22,94.50 465.36,94.00 465.51,93.50 465.66,93.00 465.81,92.50 465.96,92.00 466.12,91.50 466.27,91.00 466.43,90.50 466.58,90.00 466.74,89.50 466.89,89.00 467.05,88.50 467.20,88.00 467.35,87.50 467.51,87.00 467.66,86.50 467.82,86.00 467.98,85.50 468.13,85.00 468.29,84.50 468.45,84.00 468.61,83.50 468.77,83.00 468.92,82.50 469.08,82.00 469.24,81.50 469.39,81.00 469.55,80.50 469.70,80.00 469.85,79.50 470.01,79.00 470.17,78.50 470.32,78.00 470.48,77.50 470.64,77.00 470.79,76.50 470.95,76.00 471.10,75.50 471.25,75.00 471.40,74.50 471.55,74.00 471.69,73.50 471.83,73.00 471.97,72.50 472.10,72.00 472.23,71.50 472.35,71.00 472.48,70.50 472.60,70.00 472.72,69.50 472.83,69.00 472.95,68.50 473.06,68.00 473.17,67.50 473.28,67.00 473.39,66.50 473.49,66.00 473.60,65.50 473.70,65.00 473.80,64.50 473.90,64.00 474.00,63.50 474.10,63.00 474.19,62.50 474.29,62.00 474.38,61.50 474.48,61.00 474.57,60.50 474.66,60.00 474.75,59.50 474.83,59.00 474.92,58.50 475.00,58.00 475.08,57.50 475.16,57.00 475.23,56.50 475.30,56.00 475.37,55.50 475.43,55.00 475.50,54.50 475.56,54.00 475.62,53.50 475.68,53.00 475.73,52.50 475.79,52.00 475.84,51.50 475.90,51.00 475.95,50.50 476.00,50.00 476.05,49.50 476.10,49.00 476.15,48.50 476.20,48.00 476.25,47.50 476.30,47.00 476.35,46.50 476.40,46.00 476.45,45.50 476.50,45.00 476.55,44.50 476.60,44.00 476.65,43.50 476.69,43.00 476.74,42.50 476.78,42.00 476.81,41.50 476.85,41.00 476.88,40.50 476.90,40.00 476.92,39.50 476.94,39.00 476.96,38.50 476.98,38.00 477.00,37.50 477.02,37.00 477.04,36.50 477.06,36.00 477.07,35.50 477.09,35.00 477.10,34.50 477.12,34.00 477.13,33.50 477.14,33.00 477.15,32.50 477.16,32.00 477.17,31.50 477.18,31.00 477.19,30.50 477.20,30.00 477.21,29.50 477.21,29.00 477.22,28.50 477.23,28.00 477.24,27.50 477.24,27.00 477.25,26.50 477.26,26.00 477.26,25.50 477.27,25.00 477.28,24.50 477.28,24.00 477.29,23.50 477.30,23.00 477.30,22.50 477.31,22.00 477.31,21.50 477.32,21.00 477.33,20.50 477.33,20.00 477.34,19.50 477.34,19.00 477.35,18.50 477.35,18.00 477.36,17.50 477.36,17.00 477.36,16.50 477.37,16.00 477.37,15.50 477.37,15.00 477.38,14.50 477.38,14.00 477.38,13.50 477.39,13.00 477.39,12.50 477.39,12.00 477.39,11.50 477.40,11.00 477.40,10.50 477.40,10.00 477.40,9.50 477.40,9.00 477.40,8.50 477.40,8.00" fill="#6b6b6b" stroke="#6b6b6b" stroke-width="0.6" stroke-linejoin="round"/>
<line x1="364.2" y1="116" x2="364.2" y2="146" stroke="#656565" stroke-width="1.4" />
<circle cx="364.2" cy="134.5" r="1.7" fill="#ffffff"/>
<line x1="401.9" y1="100" x2="401.9" y2="146" stroke="#656565" stroke-width="1.4" />
<circle cx="401.9" cy="120.7" r="1.7" fill="#ffffff"/>
<line x1="440.0" y1="108" x2="440.0" y2="150" stroke="#656565" stroke-width="1.4" />
<circle cx="440.0" cy="129.4" r="1.7" fill="#ffffff"/>
<line x1="477.8" y1="97" x2="477.8" y2="128" stroke="#656565" stroke-width="1.4" />
<circle cx="477.8" cy="110.6" r="1.7" fill="#ffffff"/>
<circle cx="326.2" cy="155.5" r="1.0" fill="#ffffff"/>
<rect x="299.6" y="1.5" width="204.89999999999998" height="160.0" fill="none" stroke="#8a8a8a" stroke-width="1"/>
<line x1="296.20000000000005" y1="155.75" x2="299.6" y2="155.75" stroke="#8a8a8a" stroke-width="1" />
<text transform="translate(289.4,155.15) rotate(-90)" font-size="8.3" text-anchor="middle" fill="#7c7c7c" textLength="3.5" lengthAdjust="spacingAndGlyphs">0</text>
<line x1="296.20000000000005" y1="126.5" x2="299.6" y2="126.5" stroke="#8a8a8a" stroke-width="1" />
<text transform="translate(289.4,125.90) rotate(-90)" font-size="8.3" text-anchor="middle" fill="#7c7c7c" textLength="10.6" lengthAdjust="spacingAndGlyphs">100</text>
<line x1="296.20000000000005" y1="97.25" x2="299.6" y2="97.25" stroke="#8a8a8a" stroke-width="1" />
<text transform="translate(289.4,96.65) rotate(-90)" font-size="8.3" text-anchor="middle" fill="#7c7c7c" textLength="10.6" lengthAdjust="spacingAndGlyphs">200</text>
<line x1="296.20000000000005" y1="68.0" x2="299.6" y2="68.0" stroke="#8a8a8a" stroke-width="1" />
<text transform="translate(289.4,67.40) rotate(-90)" font-size="8.3" text-anchor="middle" fill="#7c7c7c" textLength="10.6" lengthAdjust="spacingAndGlyphs">300</text>
<line x1="296.20000000000005" y1="38.75" x2="299.6" y2="38.75" stroke="#8a8a8a" stroke-width="1" />
<text transform="translate(289.4,38.15) rotate(-90)" font-size="8.3" text-anchor="middle" fill="#7c7c7c" textLength="10.6" lengthAdjust="spacingAndGlyphs">400</text>
<line x1="296.20000000000005" y1="9.5" x2="299.6" y2="9.5" stroke="#8a8a8a" stroke-width="1" />
<text transform="translate(289.4,8.90) rotate(-90)" font-size="8.3" text-anchor="middle" fill="#7c7c7c" textLength="10.6" lengthAdjust="spacingAndGlyphs">500</text>
<line x1="326.2" y1="161.5" x2="326.2" y2="164.7" stroke="#8a8a8a" stroke-width="1" />
<line x1="364.2" y1="161.5" x2="364.2" y2="164.7" stroke="#8a8a8a" stroke-width="1" />
<line x1="401.9" y1="161.5" x2="401.9" y2="164.7" stroke="#8a8a8a" stroke-width="1" />
<line x1="440.0" y1="161.5" x2="440.0" y2="164.7" stroke="#8a8a8a" stroke-width="1" />
<line x1="477.8" y1="161.5" x2="477.8" y2="164.7" stroke="#8a8a8a" stroke-width="1" />
<text transform="translate(272.2,72.2) rotate(-90)" font-size="6.2" font-weight="bold" text-anchor="middle" fill="#111" stroke="#111" stroke-width="0.25" textLength="36.8" lengthAdjust="spacingAndGlyphs">Perforin MCF</text>
<text x="326.2" y="175.3" font-size="7" text-anchor="middle" font-weight="bold" fill="#111" stroke="#111" stroke-width="0.28" textLength="26" lengthAdjust="spacingAndGlyphs" >Affected</text>
<text x="363.6" y="175.3" font-size="7" text-anchor="middle" font-weight="bold" fill="#111" stroke="#111" stroke-width="0.28" textLength="21.3" lengthAdjust="spacingAndGlyphs" >Carrier</text>
<text x="402.1" y="175.3" font-size="7" text-anchor="middle" font-weight="bold" fill="#111" stroke="#111" stroke-width="0.28" textLength="16.8" lengthAdjust="spacingAndGlyphs" >VUCS</text>
<text x="439.6" y="175.3" font-size="7" text-anchor="middle" font-weight="bold" fill="#111" stroke="#111" stroke-width="0.28" textLength="16.8" lengthAdjust="spacingAndGlyphs" >A91V</text>
<text x="477.5" y="175.3" font-size="7" text-anchor="middle" font-weight="bold" fill="#111" stroke="#111" stroke-width="0.28" textLength="23.5" lengthAdjust="spacingAndGlyphs" >Normal</text>
<text x="509.2" y="129.3" font-size="6.8" text-anchor="start" font-weight="bold" fill="#111" stroke="#111" stroke-width="0.28" textLength="7" lengthAdjust="spacingAndGlyphs" >98</text>
<text x="509.2" y="143.1" font-size="6.4" fill="#999999" font-family="Liberation Serif, serif" textLength="7" lengthAdjust="spacingAndGlyphs">49</text>
<line x1="43.5" y1="201.5" x2="251.4" y2="201.5" stroke="#a0a0a0" stroke-width="1" />
<line x1="251.4" y1="201.1" x2="251.4" y2="343.5" stroke="#9a9a9a" stroke-width="0.9" />
<line x1="43.5" y1="201.1" x2="43.5" y2="345.5" stroke="#7a7a7a" stroke-width="1" />
<line x1="41.5" y1="343.5" x2="251.4" y2="343.5" stroke="#b4b4b4" stroke-width="1.3" />
<line x1="41.3" y1="343.5" x2="45.7" y2="343.5" stroke="#8a8a8a" stroke-width="0.8" />
<line x1="43.5" y1="341.1" x2="43.5" y2="345.9" stroke="#9a9a9a" stroke-width="0.8" />
<text x="35.7" y="346.3" font-size="8.3" text-anchor="end" font-weight="normal" fill="#111111" stroke="#111111" stroke-width="0.28" >0</text>
<text x="43.5" y="359.1" font-size="8.3" text-anchor="middle" font-weight="normal" fill="#111111" stroke="#111111" stroke-width="0.28" >0</text>
<line x1="41.3" y1="329.26" x2="45.7" y2="329.26" stroke="#8a8a8a" stroke-width="0.8" />
<line x1="64.29" y1="341.1" x2="64.29" y2="345.9" stroke="#9a9a9a" stroke-width="0.8" />
<text x="35.7" y="332.06" font-size="8.3" text-anchor="end" font-weight="normal" fill="#111111" stroke="#111111" stroke-width="0.28" textLength="11.1" lengthAdjust="spacingAndGlyphs" >0.1</text>
<text x="64.29" y="359.1" font-size="8.3" text-anchor="middle" font-weight="normal" fill="#111111" stroke="#111111" stroke-width="0.28" textLength="11.1" lengthAdjust="spacingAndGlyphs" >0.1</text>
<line x1="41.3" y1="315.02" x2="45.7" y2="315.02" stroke="#8a8a8a" stroke-width="0.8" />
<line x1="85.08000000000001" y1="341.1" x2="85.08000000000001" y2="345.9" stroke="#9a9a9a" stroke-width="0.8" />
<text x="35.7" y="317.82" font-size="8.3" text-anchor="end" font-weight="normal" fill="#111111" stroke="#111111" stroke-width="0.28" textLength="11.1" lengthAdjust="spacingAndGlyphs" >0.2</text>
<text x="85.08000000000001" y="359.1" font-size="8.3" text-anchor="middle" font-weight="normal" fill="#111111" stroke="#111111" stroke-width="0.28" textLength="11.1" lengthAdjust="spacingAndGlyphs" >0.2</text>
<line x1="41.3" y1="300.78" x2="45.7" y2="300.78" stroke="#8a8a8a" stroke-width="0.8" />
<line x1="105.87" y1="341.1" x2="105.87" y2="345.9" stroke="#9a9a9a" stroke-width="0.8" />
<text x="35.7" y="303.58" font-size="8.3" text-anchor="end" font-weight="normal" fill="#111111" stroke="#111111" stroke-width="0.28" textLength="11.1" lengthAdjust="spacingAndGlyphs" >0.3</text>
<text x="105.87" y="359.1" font-size="8.3" text-anchor="middle" font-weight="normal" fill="#111111" stroke="#111111" stroke-width="0.28" textLength="11.1" lengthAdjust="spacingAndGlyphs" >0.3</text>
<line x1="41.3" y1="286.53999999999996" x2="45.7" y2="286.53999999999996" stroke="#8a8a8a" stroke-width="0.8" />
<line x1="126.66000000000001" y1="341.1" x2="126.66000000000001" y2="345.9" stroke="#9a9a9a" stroke-width="0.8" />
<text x="35.7" y="289.34" font-size="8.3" text-anchor="end" font-weight="normal" fill="#111111" stroke="#111111" stroke-width="0.28" textLength="11.1" lengthAdjust="spacingAndGlyphs" >0.4</text>
<text x="126.66000000000001" y="359.1" font-size="8.3" text-anchor="middle" font-weight="normal" fill="#111111" stroke="#111111" stroke-width="0.28" textLength="11.1" lengthAdjust="spacingAndGlyphs" >0.4</text>
<line x1="41.3" y1="272.3" x2="45.7" y2="272.3" stroke="#8a8a8a" stroke-width="0.8" />
<line x1="147.45" y1="341.1" x2="147.45" y2="345.9" stroke="#9a9a9a" stroke-width="0.8" />
<text x="35.7" y="275.1" font-size="8.3" text-anchor="end" font-weight="normal" fill="#111111" stroke="#111111" stroke-width="0.28" textLength="11.1" lengthAdjust="spacingAndGlyphs" >0.5</text>
<text x="147.45" y="359.1" font-size="8.3" text-anchor="middle" font-weight="normal" fill="#111111" stroke="#111111" stroke-width="0.28" textLength="11.1" lengthAdjust="spacingAndGlyphs" >0.5</text>
<line x1="41.3" y1="258.06" x2="45.7" y2="258.06" stroke="#8a8a8a" stroke-width="0.8" />
<line x1="168.24" y1="341.1" x2="168.24" y2="345.9" stroke="#9a9a9a" stroke-width="0.8" />
<text x="35.7" y="260.86" font-size="8.3" text-anchor="end" font-weight="normal" fill="#111111" stroke="#111111" stroke-width="0.28" textLength="11.1" lengthAdjust="spacingAndGlyphs" >0.6</text>
<text x="168.24" y="359.1" font-size="8.3" text-anchor="middle" font-weight="normal" fill="#111111" stroke="#111111" stroke-width="0.28" textLength="11.1" lengthAdjust="spacingAndGlyphs" >0.6</text>
<line x1="41.3" y1="243.82" x2="45.7" y2="243.82" stroke="#8a8a8a" stroke-width="0.8" />
<line x1="189.03" y1="341.1" x2="189.03" y2="345.9" stroke="#9a9a9a" stroke-width="0.8" />
<text x="35.7" y="246.62" font-size="8.3" text-anchor="end" font-weight="normal" fill="#111111" stroke="#111111" stroke-width="0.28" textLength="11.1" lengthAdjust="spacingAndGlyphs" >0.7</text>
<text x="189.03" y="359.1" font-size="8.3" text-anchor="middle" font-weight="normal" fill="#111111" stroke="#111111" stroke-width="0.28" textLength="11.1" lengthAdjust="spacingAndGlyphs" >0.7</text>
<line x1="41.3" y1="229.57999999999998" x2="45.7" y2="229.57999999999998" stroke="#8a8a8a" stroke-width="0.8" />
<line x1="209.82000000000002" y1="341.1" x2="209.82000000000002" y2="345.9" stroke="#9a9a9a" stroke-width="0.8" />
<text x="35.7" y="232.38" font-size="8.3" text-anchor="end" font-weight="normal" fill="#111111" stroke="#111111" stroke-width="0.28" textLength="11.1" lengthAdjust="spacingAndGlyphs" >0.8</text>
<text x="209.82000000000002" y="359.1" font-size="8.3" text-anchor="middle" font-weight="normal" fill="#111111" stroke="#111111" stroke-width="0.28" textLength="11.1" lengthAdjust="spacingAndGlyphs" >0.8</text>
<line x1="41.3" y1="215.34" x2="45.7" y2="215.34" stroke="#8a8a8a" stroke-width="0.8" />
<line x1="230.61" y1="341.1" x2="230.61" y2="345.9" stroke="#9a9a9a" stroke-width="0.8" />
<text x="35.7" y="218.14000000000001" font-size="8.3" text-anchor="end" font-weight="normal" fill="#111111" stroke="#111111" stroke-width="0.28" textLength="11.1" lengthAdjust="spacingAndGlyphs" >0.9</text>
<text x="230.61" y="359.1" font-size="8.3" text-anchor="middle" font-weight="normal" fill="#111111" stroke="#111111" stroke-width="0.28" textLength="11.1" lengthAdjust="spacingAndGlyphs" >0.9</text>
<line x1="41.3" y1="201.1" x2="45.7" y2="201.1" stroke="#8a8a8a" stroke-width="0.8" />
<line x1="251.4" y1="341.1" x2="251.4" y2="345.9" stroke="#9a9a9a" stroke-width="0.8" />
<text x="35.7" y="203.9" font-size="8.3" text-anchor="end" font-weight="normal" fill="#111111" stroke="#111111" stroke-width="0.28" >1</text>
<text x="251.4" y="359.1" font-size="8.3" text-anchor="middle" font-weight="normal" fill="#111111" stroke="#111111" stroke-width="0.28" >1</text>
<line x1="43.5" y1="343.5" x2="251.4" y2="201.1" stroke="#555" stroke-width="0.7" />
<rect x="48.0738" y="207.994" width="39.08519999999999" height="3.3000000000000114" fill="#585858" stroke="none" stroke-width="1"/>
<line x1="48.873799999999996" y1="209.644" x2="86.65899999999999" y2="209.644" stroke="#cccccc" stroke-width="1.1" stroke-dasharray="1 2"/>
<rect x="87.15899999999999" y="205.146" width="41.58000000000001" height="3.3000000000000114" fill="#585858" stroke="none" stroke-width="1"/>
<line x1="87.95899999999999" y1="206.796" x2="128.239" y2="206.796" stroke="#cccccc" stroke-width="1.1" stroke-dasharray="1 2"/>
<rect x="128.739" y="202.298" width="31.18500000000003" height="3.3000000000000114" fill="#585858" stroke="none" stroke-width="1"/>
<line x1="129.53900000000002" y1="203.948" x2="159.42400000000004" y2="203.948" stroke="#cccccc" stroke-width="1.1" stroke-dasharray="1 2"/>
<rect x="159.92400000000004" y="199.45" width="91.47599999999997" height="3.3000000000000114" fill="#585858" stroke="none" stroke-width="1"/>
<line x1="160.72400000000005" y1="201.1" x2="250.9" y2="201.1" stroke="#cccccc" stroke-width="1.1" stroke-dasharray="1 2"/>
<line x1="43.5" y1="343.5" x2="43.5" y2="215.34" stroke="#555" stroke-width="0.8" />
<circle cx="43.50" cy="223.03" r="1.5" fill="#fff" stroke="#444" stroke-width="0.7"/>
<circle cx="43.50" cy="221.46" r="1.5" fill="#fff" stroke="#444" stroke-width="0.7"/>
<rect x="42.82" y="214.75" width="2.6" height="2.6" fill="#e5e5e5" stroke="#444" stroke-width="0.7"/>
<rect x="44.69" y="214.04" width="2.6" height="2.6" fill="#e5e5e5" stroke="#444" stroke-width="0.7"/>
<rect x="45.94" y="211.90" width="2.6" height="2.6" fill="#e5e5e5" stroke="#444" stroke-width="0.7"/>
<rect x="46.36" y="209.77" width="2.6" height="2.6" fill="#e5e5e5" stroke="#444" stroke-width="0.7"/>
<circle cx="47.1" cy="205.9" r="1.1" fill="#222"/>
<circle cx="43.50" cy="343.50" r="1.3" fill="#fff" stroke="#666" stroke-width="0.6"/>
<text x="147.5" y="372.7" font-size="8.5" text-anchor="middle" font-weight="bold" fill="#111" stroke="#111" stroke-width="0.28" textLength="123" lengthAdjust="spacingAndGlyphs" >False negative rate (1 - Specificity)</text>
<text transform="translate(20.8,274) rotate(-90)" font-size="8.5" font-weight="bold" text-anchor="middle" fill="#111" stroke="#111" stroke-width="0.25" textLength="118" lengthAdjust="spacingAndGlyphs">True positive rate (Sensitivity)</text>
</svg>
</body></html>
